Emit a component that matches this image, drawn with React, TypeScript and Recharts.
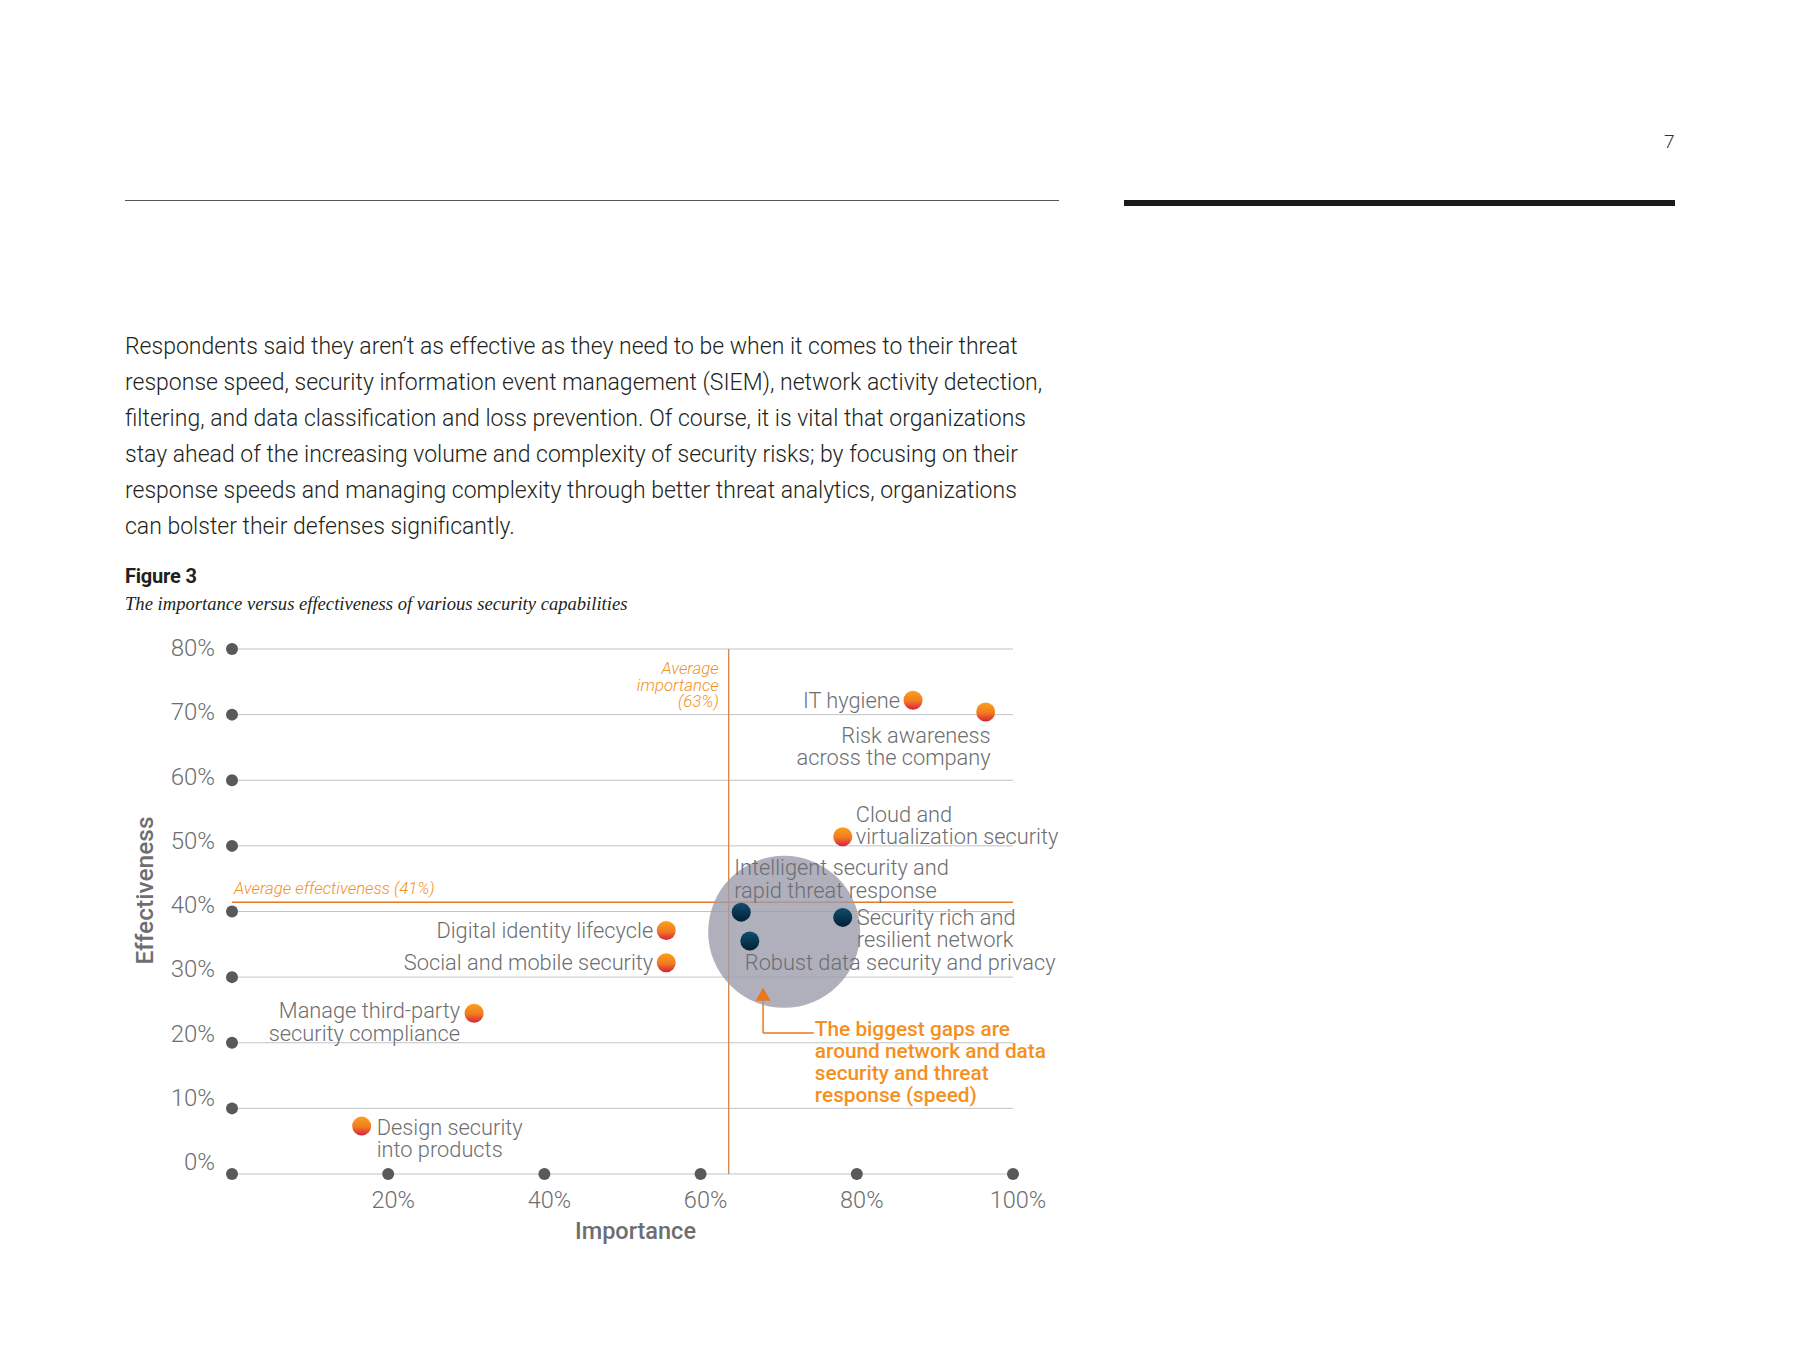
import React from 'react'
import { ScatterChart, Scatter, XAxis, YAxis, CartesianGrid, ReferenceLine, ReferenceDot, Label } from 'recharts'

// capabilities (importance %, effectiveness %)
const capabilities = [
  'IT hygiene',
  'Risk awareness across the company',
  'Cloud and virtualization security',
  'Intelligent security and rapid threat response',
  'Security rich and resilient network',
  'Robust data security and privacy',
  'Digital identity lifecycle',
  'Social and mobile security',
  'Manage third-party security compliance',
  'Design security into products',
]
const importance = [87.2, 96.5, 78.2, 65.2, 78.2, 66.3, 55.6, 55.6, 31.0, 16.6]
const effectiveness = [72.2, 70.4, 51.4, 39.9, 39.1, 35.5, 37.1, 32.2, 24.5, 7.3]
const isGap = [false, false, false, true, true, true, false, false, false, false]
const labelLines = [
  ['IT hygiene'],
  ['Risk awareness', 'across the company'],
  ['Cloud and', 'virtualization security'],
  ['Intelligent security and', 'rapid threat response'],
  ['Security rich and', 'resilient network'],
  ['Robust data security and privacy'],
  ['Digital identity lifecycle'],
  ['Social and mobile security'],
  ['Manage third-party', 'security compliance'],
  ['Design security', 'into products'],
]

const xTicks = [20, 40, 60, 80, 100]
const yTicks = [0, 10, 20, 30, 40, 50, 60, 70, 80]
const avgImportance = 63.6
const avgEffectiveness = 41.4
const gapZone = [{ importance: 70.7, effectiveness: 36.9 }]
const calloutPath = [
  { importance: 68, effectiveness: 28.4 },
  { importance: 68, effectiveness: 21.5 },
  { importance: 74.5, effectiveness: 21.5 },
]
const calloutText = ['The biggest gaps are', 'around network and data', 'security and threat', 'response (speed)']

const paragraph = [
  'Respondents said they aren\u2019t as effective as they need to be when it comes to their threat',
  'response speed, security information event management (SIEM), network activity detection,',
  'filtering, and data classification and loss prevention. Of course, it is vital that organizations',
  'stay ahead of the increasing volume and complexity of security risks; by focusing on their',
  'response speeds and managing complexity through better threat analytics, organizations',
  'can bolster their defenses significantly.',
]

// label placement next to each dot (pixels)
const placement: Record<string, { anchor: 'start' | 'end'; dx: number; dy: number }> = {
  'IT hygiene': { anchor: 'end', dx: -13, dy: 0 },
  'Risk awareness across the company': { anchor: 'end', dx: 5, dy: 23 },
  'Cloud and virtualization security': { anchor: 'start', dx: 13, dy: -22.5 },
  'Intelligent security and rapid threat response': { anchor: 'start', dx: -7, dy: -44.5 },
  'Security rich and resilient network': { anchor: 'start', dx: 14, dy: 0 },
  'Robust data security and privacy': { anchor: 'start', dx: -5, dy: 21.5 },
  'Digital identity lifecycle': { anchor: 'end', dx: -13, dy: 0 },
  'Social and mobile security': { anchor: 'end', dx: -13, dy: 0 },
  'Manage third-party security compliance': { anchor: 'end', dx: -14, dy: -2.5 },
  'Design security into products': { anchor: 'start', dx: 15, dy: 1 },
}

const rows = capabilities.map((name, i) => ({
  name,
  importance: importance[i],
  effectiveness: effectiveness[i],
  lines: labelLines[i],
}))
const gapRows = rows.filter((_, i) => isGap[i])
const otherRows = rows.filter((_, i) => !isGap[i])

const ORANGE = '#f4901e'
const LINE_ORANGE = '#e8771f'
const GRAY_TEXT = '#6d6e71'
const FONT = "Roboto, 'Liberation Sans', Arial, sans-serif"

const pointShape = (fill: string) => (p: any) => {
  const place = placement[p.payload.name]
  return (
    <g>
      <circle cx={p.cx} cy={p.cy} r={9.5} fill={fill} />
      {p.payload.lines.map((t: string, k: number) => (
        <text
          key={k}
          x={p.cx + place.dx}
          y={p.cy + place.dy + k * 22.5}
          textAnchor={place.anchor}
          dominantBaseline="central"
          fontSize={21.8}
          fontWeight={300}
          fill={GRAY_TEXT}
          fontFamily={FONT}
        >
          {t}
        </text>
      ))}
    </g>
  )
}

const XTick = (p: any) => (
  <g>
    <circle cx={p.x} cy={p.y} r={6} fill="#58595b" />
    <text x={p.x + 5} y={p.y + 26} textAnchor="middle" dominantBaseline="central" fontSize={23.5} fontWeight={300} fill={GRAY_TEXT} fontFamily={FONT}>
      {p.payload.value}%
    </text>
  </g>
)

// the printed labels drift slightly above their dots towards the bottom of the axis
const YTick = (p: any) => (
  <g>
    <circle cx={p.x} cy={p.y} r={6} fill="#58595b" />
    <text x={p.x - 17} y={p.y - 12 + p.payload.value * 0.14} textAnchor="end" dominantBaseline="central" fontSize={24} fontWeight={300} fill={GRAY_TEXT} fontFamily={FONT}>
      {p.payload.value}%
    </text>
  </g>
)

function Figure() {
  return (
    <ScatterChart width={1000} height={680} margin={{ top: 49, right: 87, bottom: 30, left: 0 }}>
      <defs>
        <linearGradient id="orangeDot" x1="0" y1="0" x2="0" y2="1">
          <stop offset="0%" stopColor="#f9a11b" />
          <stop offset="55%" stopColor="#f27a21" />
          <stop offset="100%" stopColor="#d6203f" />
        </linearGradient>
        <linearGradient id="navyDot" x1="0" y1="0" x2="0" y2="1">
          <stop offset="0%" stopColor="#0f4e72" />
          <stop offset="100%" stopColor="#031f33" />
        </linearGradient>
      </defs>
      <CartesianGrid vertical={false} stroke="#c2c3c5" strokeWidth={1} />
      <XAxis
        type="number"
        dataKey="importance"
        domain={[0, 100]}
        ticks={xTicks}
        axisLine={false}
        tickLine={false}
        tickSize={0}
        tickMargin={0}
        height={76}
        tick={XTick}
        label={
          <Label
            content={(p: any) => (
              <text x={p.viewBox.x + p.viewBox.width / 2 + 13} y={p.viewBox.y + 57} textAnchor="middle" dominantBaseline="central" fontSize={23.5} fontWeight={500} fill={GRAY_TEXT} fontFamily={FONT}>
                Importance
              </text>
            )}
          />
        }
      />
      <YAxis
        type="number"
        dataKey="effectiveness"
        domain={[0, 80]}
        ticks={yTicks}
        axisLine={false}
        tickLine={false}
        tickSize={0}
        tickMargin={0}
        width={132}
        tick={YTick}
        label={
          <Label
            content={(p: any) => {
              const cx = p.viewBox.x + 44
              const cy = p.viewBox.y + p.viewBox.height / 2 - 21
              return (
                <text x={cx} y={cy} transform={`rotate(-90 ${cx} ${cy})`} textAnchor="middle" dominantBaseline="central" fontSize={24.5} fontWeight={500} fill={GRAY_TEXT} fontFamily={FONT}>
                  Effectiveness
                </text>
              )
            }}
          />
        }
      />
      <Scatter
        data={gapZone}
        isAnimationActive={false}
        shape={(p: any) => <circle cx={p.cx} cy={p.cy} r={76} fill="#9c9cab" fillOpacity={0.8} />}
      />
      <ReferenceLine
        x={avgImportance}
        stroke="#d77a35"
        strokeWidth={1.2}
        label={(p: any) => (
          <text textAnchor="end" fontSize={16.8} fontStyle="italic" fontWeight={300} fill={ORANGE} fontFamily={FONT}>
            {['Average', 'importance', '(63%)'].map((t, k) => (
              <tspan key={k} x={p.viewBox.x - 10} y={p.viewBox.y + 19 + k * 16.5} dominantBaseline="central">
                {t}
              </tspan>
            ))}
          </text>
        )}
      />
      <ReferenceLine
        y={avgEffectiveness}
        stroke={LINE_ORANGE}
        strokeWidth={1.5}
        label={(p: any) => (
          <text x={p.viewBox.x + 2} y={p.viewBox.y - 14} dominantBaseline="central" fontSize={16.8} fontStyle="italic" fontWeight={300} fill={ORANGE} fontFamily={FONT}>
            Average effectiveness (41%)
          </text>
        )}
      />
      <ReferenceLine segment={[calloutPath[0], calloutPath[1]].map((d) => ({ x: d.importance, y: d.effectiveness }))} stroke={LINE_ORANGE} strokeWidth={1.5} />
      <ReferenceLine segment={[calloutPath[1], calloutPath[2]].map((d) => ({ x: d.importance, y: d.effectiveness }))} stroke={LINE_ORANGE} strokeWidth={1.5} />
      <ReferenceDot
        x={calloutPath[0].importance}
        y={calloutPath[0].effectiveness}
        r={8}
        shape={(p: any) => <path d={`M${p.cx},${p.cy} L${p.cx - 7.5},${p.cy + 13} L${p.cx + 7.5},${p.cy + 13} Z`} fill={LINE_ORANGE} />}
      />
      <ReferenceDot
        x={calloutPath[2].importance}
        y={calloutPath[2].effectiveness}
        r={1}
        shape={(p: any) => (
          <text fontSize={20.8} fontWeight={500} fill={ORANGE} fontFamily={FONT}>
            {calloutText.map((t, k) => (
              <tspan key={k} x={p.cx + 1} y={p.cy - 4 + k * 22} dominantBaseline="central">
                {t}
              </tspan>
            ))}
          </text>
        )}
      />
      <Scatter data={otherRows} isAnimationActive={false} shape={pointShape('url(#orangeDot)')} />
      <Scatter data={gapRows} isAnimationActive={false} shape={pointShape('url(#navyDot)')} />
    </ScatterChart>
  )
}

export default function App() {
  return (
    <div style={{ position: 'absolute', left: 0, top: 0, width: 1800, height: 1350, background: '#fff', fontFamily: FONT }}>
      <div style={{ position: 'absolute', left: 1664, top: 130, fontSize: 19, fontWeight: 300, color: '#333' }}>7</div>
      <div style={{ position: 'absolute', left: 125, top: 199.5, width: 934, height: 1.5, background: '#58595b' }} />
      <div style={{ position: 'absolute', left: 1124, top: 199.5, width: 551, height: 6, background: '#1a1a1a' }} />
      {paragraph.map((line, i) => (
        <div
          key={i}
          style={{
            position: 'absolute',
            left: 125,
            top: 328.5 + i * 36,
            lineHeight: '36px',
            fontSize: 23,
            fontWeight: 300,
            letterSpacing: 0,
            whiteSpace: 'nowrap',
            color: '#231f20',
          }}
        >
          {line}
        </div>
      ))}
      <div style={{ position: 'absolute', left: 125, top: 564, lineHeight: '24px', fontSize: 20, fontWeight: 700, letterSpacing: -0.2, color: '#231f20' }}>
        Figure 3
      </div>
      <div
        style={{
          position: 'absolute',
          left: 125,
          top: 592,
          lineHeight: '24px',
          fontSize: 18.6,
          fontStyle: 'italic',
          fontFamily: "'Liberation Serif', serif",
          color: '#231f20',
          whiteSpace: 'nowrap',
        }}
      >
        The importance versus effectiveness of various security capabilities
      </div>
      <div style={{ position: 'absolute', left: 100, top: 600 }}>
        <Figure />
      </div>
    </div>
  )
}
